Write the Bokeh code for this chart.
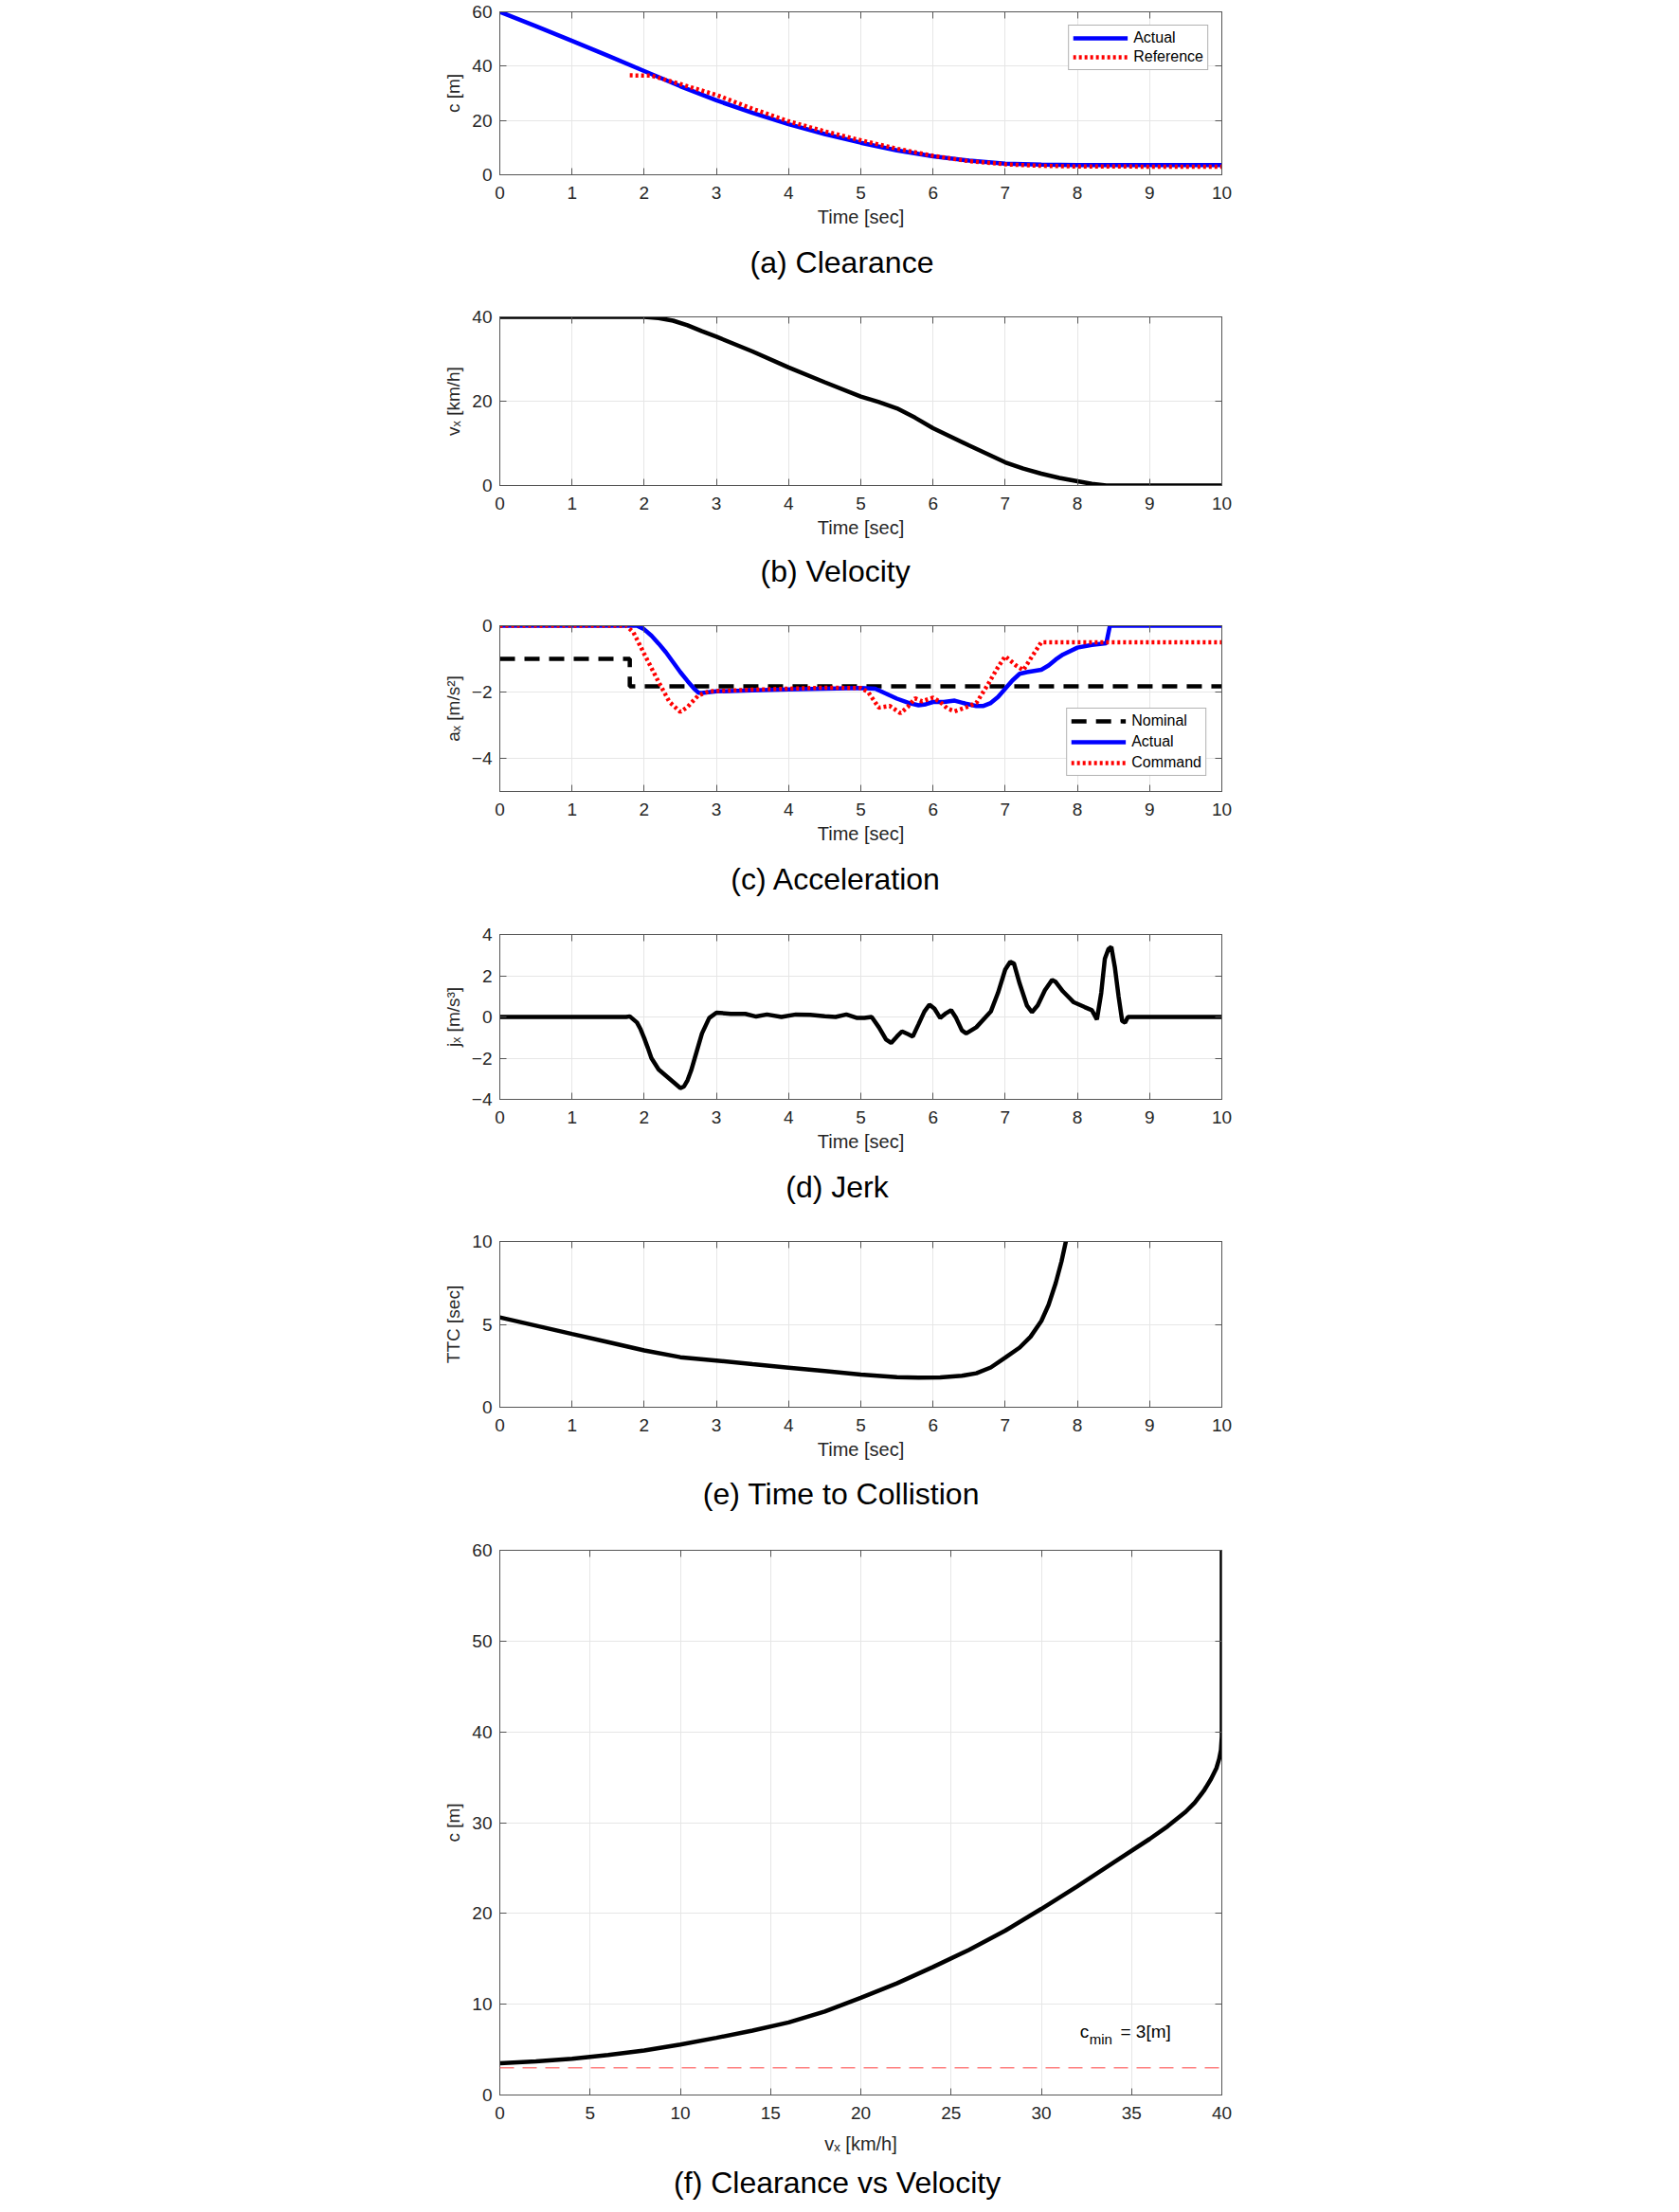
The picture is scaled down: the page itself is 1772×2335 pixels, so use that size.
from bokeh.plotting import figure
from bokeh.models import LinearAxis, Range1d, FixedTicker, Label, Span, Title
from bokeh.layouts import column
from bokeh.embed import file_html
from bokeh.resources import INLINE

# ---------------- data ----------------
# (a) clearance
t_act = [0, 0.5, 1, 1.5, 2, 2.5, 3, 3.5, 4, 4.5, 5, 5.5, 6, 6.5, 7, 7.5, 8, 9, 10]
c_act = [60, 54.7, 49.3, 43.8, 38.2, 32.6, 27.4, 22.8, 18.6, 15.0, 11.8, 9.0, 6.8, 5.2, 4.1, 3.75, 3.6, 3.6, 3.6]
t_ref = [1.8, 2.1, 2.5, 3, 3.5, 4, 4.5, 5, 5.5, 6, 6.5, 7, 7.5, 8, 9, 10]
c_ref = [36.6, 36.5, 33.4, 29.4, 24.3, 19.7, 16.0, 12.7, 9.6, 7.0, 5.0, 3.85, 3.3, 3.05, 3.0, 3.0]

# (b) velocity
t_vel = [0, 2.0, 2.2, 2.4, 2.6, 2.8, 3, 3.5, 4, 4.5, 5, 5.25, 5.5, 5.75, 6, 6.5, 7, 7.25, 7.5, 7.75, 8, 8.2, 8.4, 10]
v_vel = [40, 40, 39.7, 39.1, 38.0, 36.6, 35.3, 31.8, 28.0, 24.5, 21.1, 19.8, 18.3, 16.1, 13.6, 9.5, 5.5, 4.0, 2.8, 1.8, 1.0, 0.4, 0, 0]

# (c) acceleration
t_nom = [0, 1.8, 1.8, 10]
a_nom = [-1.0, -1.0, -1.83, -1.83]
t_aa = [0, 1.9, 2.0, 2.1, 2.2, 2.3, 2.4, 2.5, 2.6, 2.7, 2.75, 2.8, 3.0, 3.5, 4.0, 4.5, 5.0, 5.2, 5.35,
        5.5, 5.65, 5.8, 5.9, 6.0, 6.15, 6.3, 6.45, 6.6, 6.7, 6.8, 6.9, 7.0, 7.1, 7.2, 7.3, 7.5, 7.6,
        7.7, 7.8, 8.0, 8.2, 8.4, 8.45, 10]
a_act = [0, 0, -0.11, -0.3, -0.54, -0.8, -1.1, -1.4, -1.67, -1.92, -2.02, -2.03, -1.98, -1.95, -1.92,
         -1.9, -1.88, -1.9, -2.05, -2.2, -2.32, -2.4, -2.37, -2.3, -2.3, -2.26, -2.35, -2.42, -2.42,
         -2.33, -2.15, -1.9, -1.65, -1.45, -1.4, -1.33, -1.2, -1.02, -0.87, -0.66, -0.58, -0.53, 0, 0]
t_cmd = [0, 1.75, 1.85, 2.0, 2.2, 2.35, 2.5, 2.6, 2.75, 2.9, 3.0, 3.5, 4.0, 4.5, 5.0, 5.1, 5.25, 5.4,
         5.55, 5.65, 5.75, 5.85, 6.0, 6.1, 6.2, 6.3, 6.45, 6.6, 6.75, 6.9, 7.0, 7.15, 7.25, 7.35, 7.5, 10]
a_cmd = [0, 0, -0.2, -0.85, -1.7, -2.3, -2.6, -2.45, -2.1, -1.98, -1.97, -1.93, -1.9, -1.87, -1.88,
         -2.0, -2.47, -2.42, -2.64, -2.45, -2.19, -2.28, -2.17, -2.3, -2.5, -2.58, -2.47, -2.33,
         -1.81, -1.25, -0.92, -1.2, -1.34, -1.0, -0.5, -0.5]

# (d) jerk
t_jerk = [0, 1.75, 1.8, 1.9, 1.95, 2.0, 2.05, 2.1, 2.2, 2.3, 2.4, 2.5, 2.55, 2.6, 2.65, 2.7, 2.8, 2.9,
          3.0, 3.2, 3.4, 3.55, 3.7, 3.9, 4.1, 4.3, 4.5, 4.65, 4.8, 4.95, 5.05, 5.15, 5.25, 5.35,
          5.42, 5.5, 5.57, 5.65, 5.72, 5.8, 5.88, 5.95, 6.02, 6.1, 6.18, 6.25, 6.32, 6.4, 6.46, 6.6,
          6.8, 6.9, 7.0, 7.07, 7.12, 7.2, 7.3, 7.37, 7.45, 7.55, 7.65, 7.7, 7.8, 7.95, 8.1, 8.2,
          8.27, 8.33, 8.38, 8.43, 8.47, 8.52, 8.57, 8.62, 8.66, 8.7, 10]
j_jerk = [0, 0, 0.03, -0.27, -0.6, -1.03, -1.5, -2.0, -2.55, -2.85, -3.15, -3.45, -3.38, -3.07, -2.6,
          -2.0, -0.8, -0.05, 0.21, 0.15, 0.15, 0.02, 0.12, 0.0, 0.12, 0.1, 0.03, 0.0, 0.12, -0.05,
          -0.05, 0.0, -0.5, -1.1, -1.26, -0.95, -0.7, -0.83, -0.95, -0.35, 0.26, 0.6, 0.4, -0.05,
          0.18, 0.33, -0.05, -0.65, -0.8, -0.5, 0.26, 1.17, 2.3, 2.68, 2.6, 1.62, 0.56, 0.23, 0.56,
          1.3, 1.8, 1.7, 1.24, 0.71, 0.48, 0.33, -0.12, 1.17, 2.83, 3.3, 3.4, 2.38, 1.0, -0.2,
          -0.27, 0, 0]

# (e) time to collision
t_ttc = [0, 0.5, 1, 1.5, 2, 2.5, 3, 3.5, 4, 4.5, 5, 5.5, 5.8, 6.1, 6.4, 6.6, 6.8, 7.0, 7.2, 7.35,
         7.5, 7.6, 7.7, 7.78, 7.84]
ttc = [5.42, 4.92, 4.42, 3.93, 3.43, 3.02, 2.82, 2.6, 2.39, 2.18, 1.97, 1.82, 1.78, 1.8, 1.9, 2.05,
       2.4, 2.99, 3.6, 4.25, 5.2, 6.17, 7.5, 8.8, 10.0]

# (f) clearance vs velocity
v_cv = [0, 2, 4, 6, 8, 10, 12, 14, 16, 18, 20, 22, 24, 26, 28, 30, 32, 34, 36, 37, 38, 38.5, 39,
        39.4, 39.7, 39.85, 39.95, 40, 40]
c_cv = [3.5, 3.7, 4.0, 4.4, 4.9, 5.55, 6.3, 7.1, 8.0, 9.2, 10.7, 12.3, 14.1, 16.0, 18.1, 20.5, 23.0,
        25.6, 28.2, 29.6, 31.2, 32.2, 33.5, 34.8, 36.0, 37.0, 38.0, 39.5, 60]
C_MIN = 3

time_ticks = [0, 1, 2, 3, 4, 5, 6, 7, 8, 9, 10]
vel_ticks = [0, 5, 10, 15, 20, 25, 30, 35, 40]

# ---------------- styling ----------------
FONT = "Liberation Sans"
TXT = "#262626"
GRID = "#e6e6e6"
AX = "#555555"
W = 1772
FW = 768
BLUE = "#0000ff"
RED = "#ff0000"
LW = 4.5
CAP_CX = 882
CAP_PX = 32

# Arial/Liberation Sans advance widths (per 1000 em) for the caption strings
AW = {" ": 278, "(": 333, ")": 333, "a": 556, "b": 556, "c": 500, "d": 556, "e": 556, "f": 278,
      "i": 222, "k": 500, "l": 222, "m": 833, "n": 556, "o": 556, "r": 333, "s": 500, "t": 278,
      "v": 500, "y": 500, "A": 667, "C": 722, "J": 500, "T": 611, "V": 667}


def text_w(s, px):
    return sum(AW.get(ch, 556) for ch in s) * px / 1000.0


def panel(fig_top, fig_bottom, fl, ft, fb, xr, yr, xt, yt, xlabel, ylabel, caption, cap_y,
          axis_extent=56, xlab_standoff=5):
    p = figure(width=W, height=fig_bottom - fig_top, output_backend="svg", toolbar_location=None,
               x_range=Range1d(*xr), y_range=Range1d(*yr),
               min_border_left=fl, min_border_right=W - fl - FW,
               min_border_top=ft - fig_top, min_border_bottom=fig_bottom - fb,
               background_fill_color="white", border_fill_color="white")
    p.outline_line_color = AX
    p.outline_line_width = 1
    p.xaxis.ticker = FixedTicker(ticks=xt)
    p.yaxis.ticker = FixedTicker(ticks=yt)
    p.xgrid.ticker = FixedTicker(ticks=xt)
    p.ygrid.ticker = FixedTicker(ticks=yt)
    p.grid.grid_line_color = GRID
    p.grid.grid_line_width = 1
    for ax in (p.xaxis[0], p.yaxis[0]):
        ax.major_tick_in = 7
        ax.major_tick_out = 0
        ax.minor_tick_line_color = None
        ax.axis_line_color = AX
        ax.major_tick_line_color = AX
        ax.major_label_text_font = FONT
        ax.major_label_text_font_size = "19px"
        ax.major_label_text_color = TXT
        ax.axis_label_text_font = FONT
        ax.axis_label_text_font_style = "normal"
        ax.axis_label_text_color = TXT
    p.xaxis.axis_label_text_font_size = "20px"
    p.yaxis.axis_label_text_font_size = "19px"
    p.xaxis.axis_label_standoff = xlab_standoff
    p.yaxis.axis_label_standoff = 6
    p.xaxis.major_label_standoff = 12
    p.yaxis.major_label_standoff = 8
    p.xaxis.axis_label = xlabel
    p.yaxis.axis_label = ylabel
    for loc, ticks in (("right", yt), ("above", xt)):
        ax = LinearAxis(ticker=FixedTicker(ticks=ticks), major_tick_in=7, major_tick_out=0,
                        major_label_text_font_size="0px", major_label_standoff=0,
                        major_label_overrides={t: "" for t in ticks},
                        axis_line_color=AX, major_tick_line_color=AX, minor_tick_line_color=None)
        p.add_layout(ax, loc)
    axis_bottom = fb + axis_extent
    st = max(0, int(round(2 * (cap_y - axis_bottom) - 2 - 1.15 * CAP_PX)))
    off = CAP_CX - fl - text_w(caption, CAP_PX) / 2.0
    p.add_layout(Title(text=caption, align="left", offset=off, vertical_align="middle",
                       text_font=FONT, text_font_size=f"{CAP_PX}px", text_font_style="normal",
                       text_color="black", standoff=st), "below")
    return p


def style_legend(p, loc, margin, spacing):
    lg = p.legend[0]
    lg.location = loc
    lg.margin = margin
    lg.padding = 4
    lg.spacing = spacing
    lg.label_height = 18
    lg.glyph_height = 18
    lg.glyph_width = 58
    lg.label_standoff = 6
    lg.label_text_font = FONT
    lg.label_text_font_size = "16px"
    lg.label_text_color = "black"
    lg.border_line_color = "#666666"
    lg.border_line_width = 1
    lg.background_fill_color = "white"
    lg.background_fill_alpha = 1.0


# (a)
pa = panel(0, 314, 521, 12, 184, (0, 10), (0, 60), time_ticks, [0, 20, 40, 60],
           "Time [sec]", "c [m]", "(a) Clearance", 275)
pa.line(t_act, c_act, line_color=BLUE, line_width=LW, legend_label="Actual")
pa.line(t_ref, c_ref, line_color=RED, line_width=LW, line_dash="3 3", legend_label="Reference")
style_legend(pa, "top_right", 14, 2)

# (b)
pb = panel(314, 642, 527, 334, 512, (0, 10), (0, 40), time_ticks, [0, 20, 40],
           "Time [sec]", "vₓ [km/h]", "(b) Velocity", 601)
pb.line(t_vel, v_vel, line_color="black", line_width=LW)

# (c)
pc = panel(642, 966, 527, 660, 835, (0, 10), (-5, 0), time_ticks, [-4, -2, 0],
           "Time [sec]", "aₓ [m/s²]", "(c) Acceleration", 926)
pc.line(t_nom, a_nom, line_color="black", line_width=LW, line_dash="16 10", legend_label="Nominal")
pc.line(t_aa, a_act, line_color=BLUE, line_width=LW, legend_label="Actual")
pc.line(t_cmd, a_cmd, line_color=RED, line_width=LW, line_dash="3 3", legend_label="Command")
style_legend(pc, "bottom_right", 16, 4)

# (d)
pd_ = panel(966, 1291, 526, 986, 1160, (0, 10), (-4, 4), time_ticks, [-4, -2, 0, 2, 4],
            "Time [sec]", "jₓ [m/s³]", "(d) Jerk", 1251)
pd_.line(t_jerk, j_jerk, line_color="black", line_width=LW)

# (e)
pe = panel(1291, 1616, 521, 1310, 1485, (0, 10), (0, 10), time_ticks, [0, 5, 10],
           "Time [sec]", "TTC [sec]", "(e) Time to Collistion", 1575)
pe.line(t_ttc, ttc, line_color="black", line_width=LW)

# (f)
pf = panel(1616, 2334, 525, 1636, 2211, (0, 40), (0, 60), vel_ticks, [0, 10, 20, 30, 40, 50, 60],
           "vₓ [km/h]", "c [m]", "(f) Clearance vs Velocity", 2302, axis_extent=63, xlab_standoff=12)
pf.add_layout(Span(location=C_MIN, dimension="width", line_color="#ff8080", line_width=1.5,
                   line_dash="15 9"))
pf.line(v_cv, c_cv, line_color="black", line_width=LW)
pf.add_layout(Label(x=32.14, y=7.0, text="c", text_baseline="alphabetic", text_font=FONT,
                    text_font_size="19px", text_color="black"))
pf.add_layout(Label(x=32.66, y=6.15, text="min", text_baseline="alphabetic", text_font=FONT,
                    text_font_size="15px", text_color="black"))
pf.add_layout(Label(x=34.38, y=7.0, text="= 3[m]", text_baseline="alphabetic", text_font=FONT,
                    text_font_size="19px", text_color="black"))

layout = column(pa, pb, pc, pd_, pe, pf, spacing=0)
open("out.html", "w").write(file_html(layout, INLINE))
